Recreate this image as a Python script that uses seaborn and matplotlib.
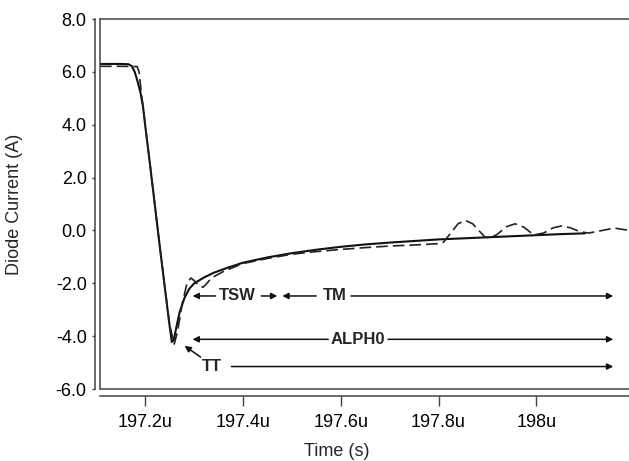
import numpy as np
import pandas as pd
import seaborn as sns
import matplotlib.pyplot as plt

# time in microseconds, current in A
t_meas = [197.107, 197.15, 197.165, 197.172, 197.178, 197.183, 197.19, 197.195, 197.20, 197.21,
          197.22, 197.23, 197.24, 197.248, 197.254, 197.258, 197.264, 197.27, 197.28, 197.29,
          197.30, 197.32, 197.34, 197.37, 197.40, 197.45, 197.50, 197.55, 197.60, 197.65,
          197.70, 197.75, 197.80, 197.85, 197.90, 197.95, 198.00, 198.05, 198.10]
i_meas = [6.30, 6.30, 6.29, 6.22, 6.0, 5.7, 5.2, 4.7, 3.9, 2.4,
          0.85, -0.7, -2.2, -3.4, -4.22, -4.15, -3.6, -3.1, -2.55, -2.2,
          -2.0, -1.78, -1.6, -1.4, -1.22, -1.02, -0.86, -0.73, -0.62, -0.53,
          -0.46, -0.4, -0.34, -0.3, -0.26, -0.22, -0.18, -0.14, -0.11]

t_sim = [197.107, 197.15, 197.183, 197.187, 197.191, 197.195, 197.21, 197.22, 197.23, 197.24,
         197.25, 197.259, 197.266, 197.275, 197.285, 197.293, 197.30, 197.31, 197.318, 197.326,
         197.335, 197.36, 197.40, 197.45, 197.50, 197.55, 197.60, 197.65, 197.70, 197.75,
         197.80, 197.81, 197.825, 197.84, 197.855, 197.87, 197.885, 197.895, 197.905, 197.92,
         197.94, 197.957, 197.975, 197.995, 198.015, 198.035, 198.052, 198.07, 198.09, 198.107,
         198.13, 198.16, 198.19]
i_sim = [6.21, 6.21, 6.20, 6.0, 5.3, 4.7, 2.4, 0.85, -0.7, -2.2,
         -3.6, -4.3, -3.8, -2.8, -2.0, -1.8, -1.9, -2.1, -2.15, -2.0,
         -1.8, -1.55, -1.25, -1.06, -0.9, -0.8, -0.72, -0.65, -0.59, -0.55,
         -0.5, -0.45, -0.1, 0.25, 0.38, 0.25, -0.05, -0.25, -0.29, -0.15,
         0.15, 0.25, 0.12, -0.17, -0.1, 0.1, 0.17, 0.1, -0.05, -0.1,
         -0.02, 0.09, 0.0]

x_ticks = [197.2, 197.4, 197.6, 197.8, 198.0]
x_labels = ['197.2u', '197.4u', '197.6u', '197.8u', '198u']
y_ticks = [-6, -4, -2, 0, 2, 4, 6, 8]

sns.set_style('white')
plt.rcParams['font.family'] = ['Liberation Sans', 'DejaVu Sans']

fig = plt.figure(figsize=(6.29, 4.61), dpi=100)
ax = fig.add_axes([100 / 629, 1 - 389 / 461, 529 / 629, 370 / 461])

meas = pd.DataFrame({'t': t_meas, 'i': i_meas})
sim = pd.DataFrame({'t': t_sim, 'i': i_sim})
sns.lineplot(data=meas, x='t', y='i', ax=ax, color='#111111', lw=1.5, estimator=None)
sns.lineplot(data=sim, x='t', y='i', ax=ax, color='#222222', lw=1.2, estimator=None,
             linestyle=(0, (7, 3)))

ax.set_xlim(197.107, 198.19)
ax.set_ylim(-6, 8)
ax.set_xticks(x_ticks)
ax.set_xticklabels(x_labels)
ax.set_yticks(y_ticks)
ax.set_yticklabels([f'{v:.1f}' for v in y_ticks])
ax.tick_params(axis='both', labelsize=13, colors='#444444', labelcolor='black', width=1)
ax.tick_params(axis='y', length=2.5, pad=3.5, left=True)
ax.tick_params(axis='x', length=7, pad=6, bottom=True)

# detached axis lines plus a plain frame
for side in ['left', 'bottom', 'top']:
    ax.spines[side].set_color('#444444')
    ax.spines[side].set_linewidth(1.1)
ax.spines['right'].set_visible(False)
ax.spines['left'].set_position(('outward', 3.6))
ax.spines['bottom'].set_position(('outward', 5))
ax.plot([0, 0], [0, 1], transform=ax.transAxes, color='#444444', lw=1.1, clip_on=False)
ax.plot([0, 1], [0, 0], transform=ax.transAxes, color='#444444', lw=1.1, clip_on=False)

ax.set_xlabel('Time (s)', fontsize=13)
ax.set_ylabel('Diode Current (A)', fontsize=13)
ax.xaxis.set_label_coords(0.448, -0.146)
ax.yaxis.set_label_coords(-0.146, 0.5)

# annotation arrows
arrow = dict(arrowstyle='-|>', color='#111111', lw=1.1, mutation_scale=9, shrinkA=0, shrinkB=0)
txt = dict(fontsize=12, fontweight='bold', ha='center', va='center')

y1 = -2.48
ax.text(197.3884, y1, 'TSW', **txt)
ax.annotate('', xy=(197.2965, y1), xytext=(197.3435, y1), arrowprops=arrow)
ax.annotate('', xy=(197.470, y1), xytext=(197.4373, y1), arrowprops=arrow)
ax.text(197.5884, y1, 'TM', **txt)
ax.annotate('', xy=(197.4802, y1), xytext=(197.5496, y1), arrowprops=arrow)
ax.annotate('', xy=(198.1578, y1), xytext=(197.6210, y1), arrowprops=arrow)

y2 = -4.12
ax.text(197.6353, y2, 'ALPH0', **txt)
ax.annotate('', xy=(197.2965, y2), xytext=(197.5741, y2), arrowprops=arrow)
ax.annotate('', xy=(198.1578, y2), xytext=(197.6966, y2), arrowprops=arrow)

y3 = -5.15
ax.text(197.3353, y3, 'TT', **txt)
ax.annotate('', xy=(198.1578, y3), xytext=(197.3761, y3), arrowprops=arrow)
ax.annotate('', xy=(197.2802, -4.37), xytext=(197.3129, -4.79), arrowprops=arrow)

fig.savefig('out.png', dpi=100)
